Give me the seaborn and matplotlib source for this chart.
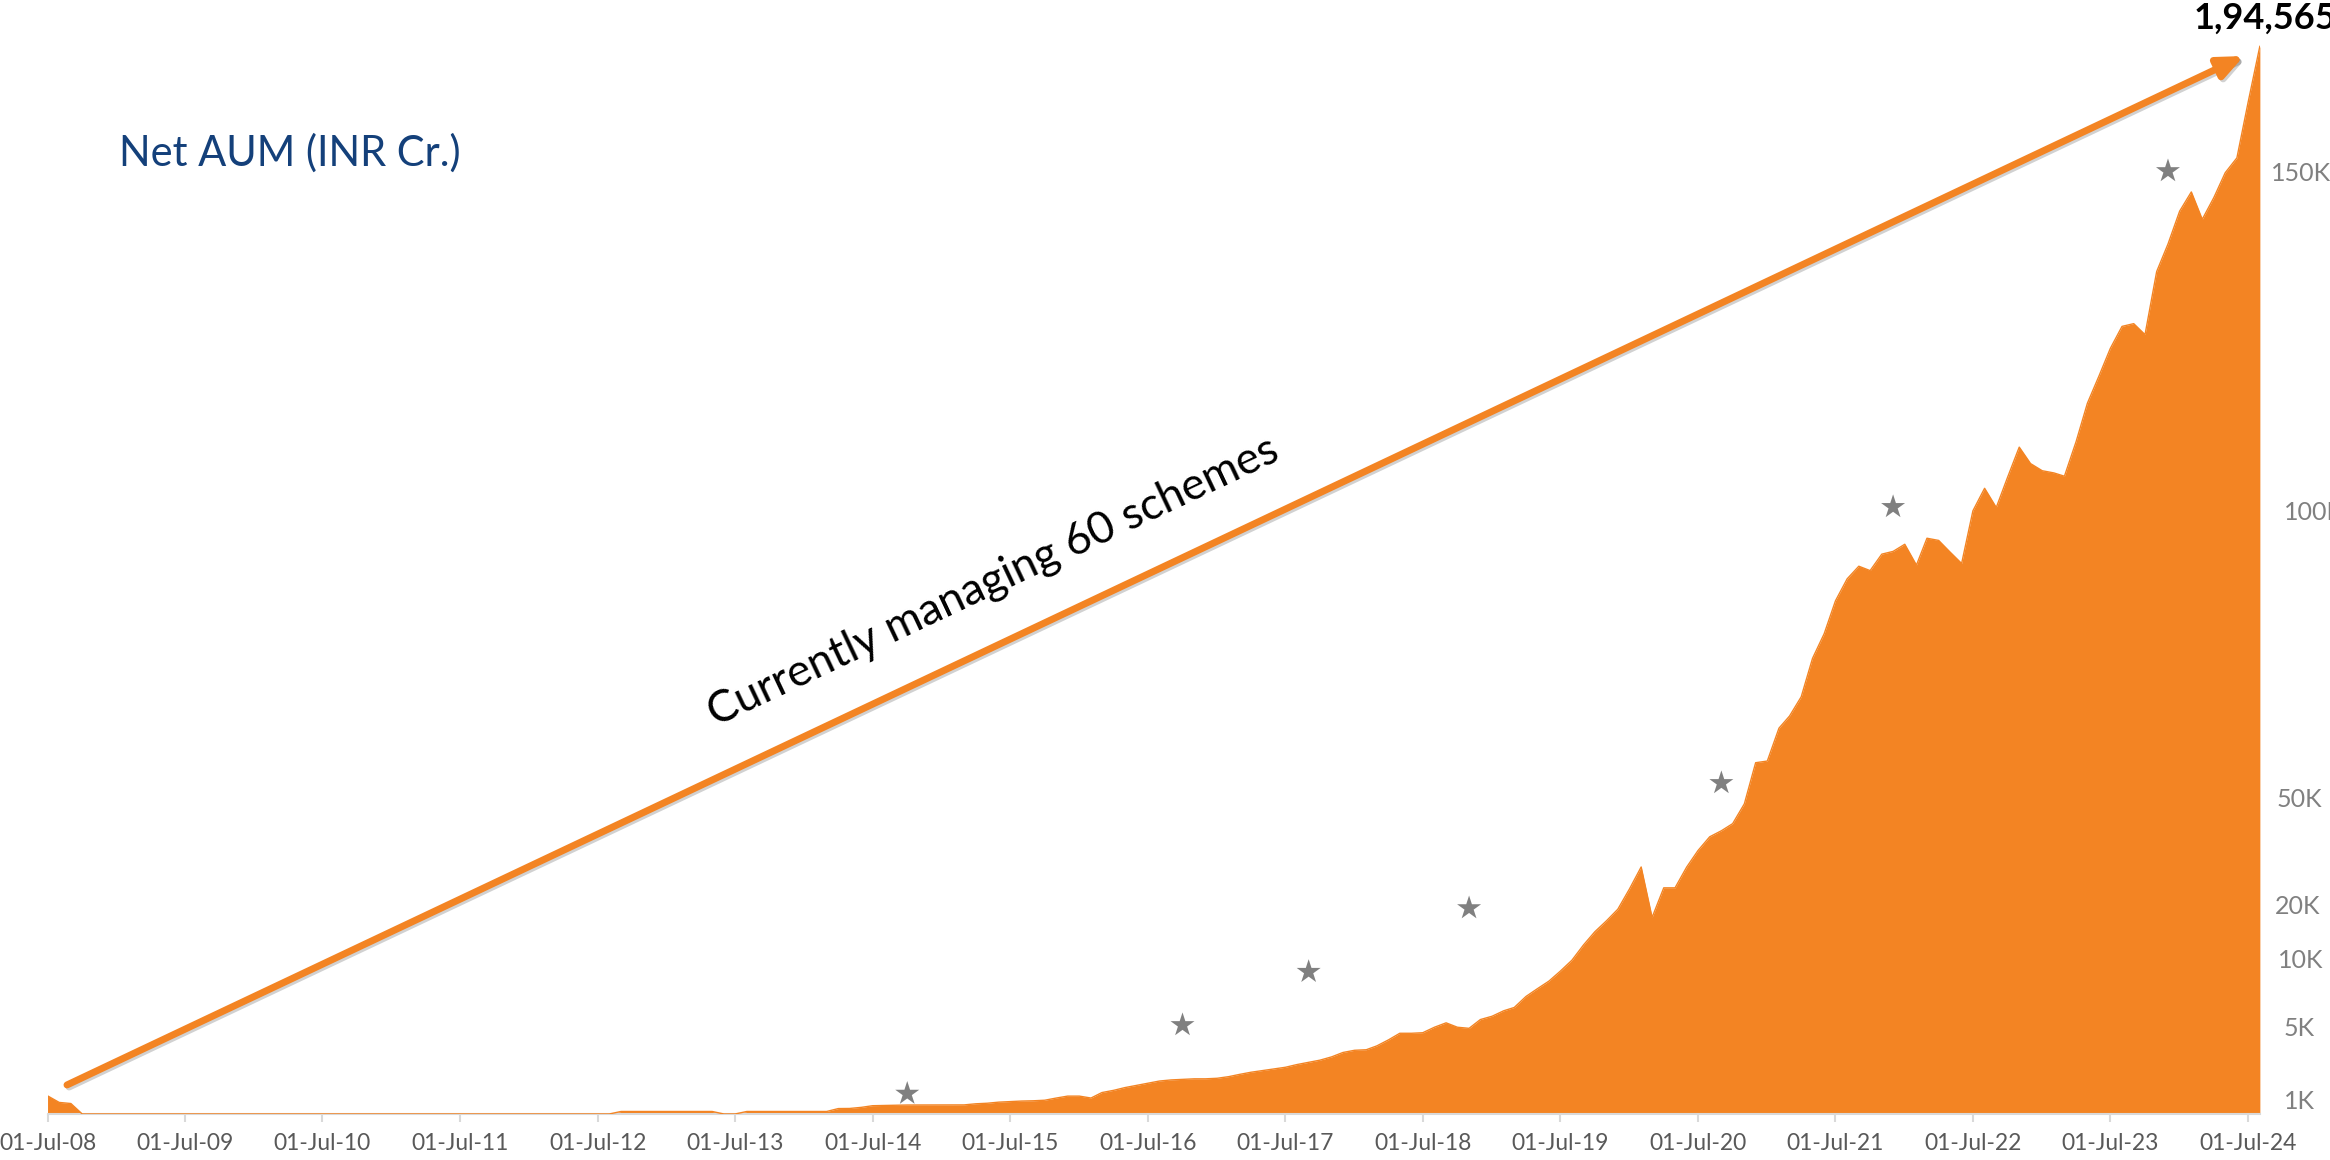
import numpy as np
import pandas as pd
import matplotlib
matplotlib.use('Agg')
import matplotlib.pyplot as plt
import matplotlib.patheffects as pe
import seaborn as sns

# Datos: AUM neto mensual (INR Cr.), jul-08 a ago-24
fechas = pd.date_range('2008-07-01', '2024-08-01', freq='MS')
aum = [
    3300, 2100, 1900, 0, 0, 0, 0, 0, 0, 0, 0, 0,                               # jul-08
    0, 0, 0, 0, 0, 0, 0, 0, 0, 0, 0, 0,                                        # jul-09
    0, 0, 0, 0, 0, 0, 0, 0, 0, 0, 0, 0,                                        # jul-10
    0, 0, 0, 0, 0, 0, 0, 0, 0, 0, 0, 0,                                        # jul-11
    0, 0, 450, 450, 450, 450, 450, 450, 450, 450, 450, 0,                      # jul-12
    0, 450, 450, 450, 450, 450, 450, 450, 450, 980, 1000, 1200,                # jul-13
    1500, 1550, 1600, 1630, 1630, 1630, 1630, 1630, 1650, 1850, 1950, 2150,    # jul-14
    2250, 2350, 2400, 2500, 2900, 3250, 3250, 2900, 3900, 4300, 4800, 5200,    # jul-15
    5600, 6000, 6200, 6300, 6400, 6400, 6500, 6800, 7200, 7600, 7900, 8200,    # jul-16
    8500, 9000, 9400, 9800, 10400, 11200, 11600, 11700, 12400, 13500, 14700, 14700,  # jul-17
    14800, 15800, 16600, 15800, 15600, 17200, 17800, 18800, 19400, 21400, 22800, 24200,  # jul-18
    26000, 28000, 30800, 33200, 35200, 37300, 41000, 45000, 35800, 41200, 41200, 45000,  # jul-19
    48000, 50500, 51600, 52900, 56500, 64000, 64300, 70300, 72500, 76000, 83000, 87500,  # jul-20
    93500, 97500, 99800, 99000, 102000, 102500, 103800, 100000, 104900, 104500, 102400, 100300,  # jul-21
    109900, 114000, 110500, 116000, 121500, 118500, 117200, 116800, 116200, 122500, 129500, 134500,  # jul-22
    139500, 143500, 144000, 142000, 153500, 158500, 164500, 168000, 163000, 167000, 171500, 174200,  # jul-23
    184400, 194565,                                                            # jul-24
]

# Hitos (estrellas) y etiquetas del eje derecho
hitos_fechas = pd.to_datetime(['2014-10-01', '2016-10-01', '2017-09-01', '2018-11-01',
                               '2020-09-01', '2021-12-01', '2023-12-01'])
hitos_valor = [3700, 16200, 25900, 37500, 60300, 110600, 171800]
hitos_pos = [2550, 15900, 28400, 38100, 57600, 109900, 171800]
hitos_etiqueta = ['1K', '5K', '10K', '20K', '50K', '100K', '150K']

ticks_x = pd.date_range('2008-07-01', '2024-07-01', freq='12MS')
etiquetas_x = [f'01-Jul-{d:%y}' for d in ticks_x]

naranja = '#F38423'
gris = '#808080'

sns.set_style('white')
plt.rcParams['font.family'] = ['Lato', 'DejaVu Sans']

fig = plt.figure(figsize=(23.3, 11.6), dpi=100)
ax = fig.add_axes([0.0204, 0.0397, 0.9495, 0.9259])

# Área
ax.fill_between(fechas, aum, color=naranja, lw=0, zorder=2)
sns.lineplot(x=fechas, y=aum, color=naranja, lw=1, ax=ax, zorder=3)

# Estrellas de hitos
sns.scatterplot(x=hitos_fechas, y=hitos_valor, marker='*', s=330, color=gris,
                edgecolor='none', ax=ax, zorder=5)

ax.set_xlim(fechas[0], fechas[-1])
ax.set_ylim(0, 195700)

# Eje X
ax.set_xticks(ticks_x)
ax.set_xticklabels(etiquetas_x)
ax.tick_params(axis='x', bottom=True, color='#d9d9d9', length=6, width=1.5,
               labelcolor='#595959', labelsize=16.5, pad=8)

# Eje Y a la derecha con etiquetas de hitos (cajas de texto algo desalineadas)
ax.yaxis.tick_right()
ax.set_yticks(hitos_pos)
ax.set_yticklabels(hitos_etiqueta)
ax.tick_params(axis='y', right=True, length=0, labelcolor=gris, labelsize=18)
for tick, pad in zip(ax.yaxis.get_major_ticks(), [17, 17, 13, 11, 12, 17, 8]):
    tick.set_pad(pad)

for lado in ['top', 'left', 'right']:
    ax.spines[lado].set_visible(False)
ax.spines['bottom'].set_color('#d9d9d9')
ax.spines['bottom'].set_linewidth(1.5)
ax.set_xlabel('')
ax.set_ylabel('')

# Flecha
ax.annotate('', xy=(0.9928, 0.985), xytext=(0.0088, 0.027), xycoords='axes fraction',
            arrowprops=dict(arrowstyle='-|>,head_length=1.5,head_width=0.65', color=naranja,
                            lw=5, shrinkA=0, shrinkB=0,
                            path_effects=[pe.SimpleLineShadow(offset=(1.5, -1.5), alpha=0.18),
                                          pe.Normal()]),
            zorder=4)

# Textos
fig.text(993 / 2330, 1 - 582 / 1160, 'Currently managing 60 schemes', rotation=25.3,
         ha='center', va='center', rotation_mode='anchor', fontsize=32, color='black')
fig.text(119 / 2330, 1 - 153 / 1160, 'Net AUM (INR Cr.)', ha='left', va='center',
         fontsize=30, color='#14407A')
ax.annotate('1,94,565', xy=(fechas[-1], aum[-1]), xytext=(4, 8), textcoords='offset points',
            ha='center', va='bottom', fontsize=26, fontweight='bold', color='black',
            annotation_clip=False)

plt.savefig('out.png', dpi=100)
